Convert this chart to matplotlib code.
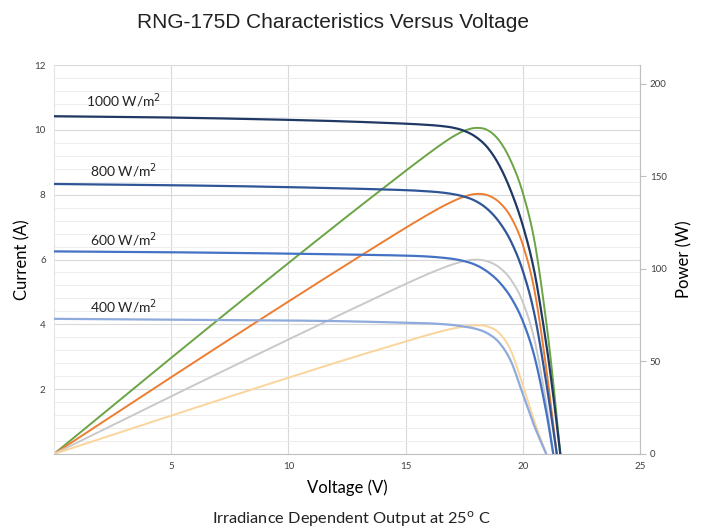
import matplotlib
matplotlib.use("Agg")
import matplotlib.pyplot as plt
import numpy as np

# values
v1000 = [0, 4, 8, 12, 15, 16, 16.5, 17, 17.5, 18, 18.5, 19, 19.5, 20, 20.5, 21, 21.3, 21.6]
i1000 = [10.42, 10.39, 10.34, 10.27, 10.19, 10.15, 10.12, 10.07, 9.97, 9.78, 9.45, 8.9, 8.1, 7.05, 5.6, 3.4, 1.8, 0]
p1000 = [0, 41.56, 82.72, 123.24, 152.85, 162.4, 166.98, 171.19, 174.48, 176.04, 174.83, 169.1, 157.95, 141.0, 114.8, 71.4, 38.34, 0]

v800 = [0, 4, 8, 12, 15, 16, 16.5, 17, 17.5, 18, 18.5, 19, 19.5, 20, 20.5, 21, 21.45]
i800 = [8.33, 8.30, 8.26, 8.20, 8.14, 8.10, 8.07, 8.02, 7.94, 7.80, 7.55, 7.15, 6.55, 5.65, 4.3, 2.2, 0]
p800 = [0, 33.2, 66.08, 98.4, 122.1, 129.6, 133.16, 136.34, 138.95, 140.4, 139.68, 135.85, 127.73, 113.0, 88.15, 46.2, 0]

v600 = [0, 4, 8, 12, 15, 16, 16.5, 17, 17.5, 18, 18.5, 19, 19.5, 20, 20.5, 21, 21.3]
i600 = [6.25, 6.23, 6.20, 6.16, 6.12, 6.09, 6.06, 6.02, 5.95, 5.83, 5.62, 5.3, 4.82, 4.1, 3.0, 1.3, 0]
p600 = [0, 24.92, 49.6, 73.92, 91.8, 97.44, 99.99, 102.34, 104.13, 104.94, 103.97, 100.7, 93.99, 82.0, 61.5, 27.3, 0]

v400 = [0, 4, 8, 12, 15, 16, 16.5, 17, 17.5, 18, 18.5, 19, 19.5, 20, 20.5, 21]
i400 = [4.17, 4.15, 4.13, 4.10, 4.05, 4.03, 4.01, 3.98, 3.93, 3.86, 3.72, 3.43, 2.85, 1.85, 0.85, 0]
p400 = [0, 16.6, 33.04, 49.2, 60.75, 64.48, 66.17, 67.66, 68.78, 69.48, 68.82, 65.17, 55.58, 37.0, 17.43, 0]

labels = ["1000 W/m$^2$", "800 W/m$^2$", "600 W/m$^2$", "400 W/m$^2$"]
label_y = [10.9, 8.73, 6.6, 4.54]

i_colors = ["#1F3864", "#2F5597", "#4472C4", "#8FAADC"]
p_colors = ["#6AA444", "#ED7D31", "#C9C9C9", "#FAD59B"]


def smooth(x, y, n=20):
    # catmull-rom pass through the read points, like Excel's smoothed line
    x = np.asarray(x, float)
    y = np.asarray(y, float)
    xs, ys = [], []
    for k in range(len(x) - 1):
        x0, x1 = x[k], x[k + 1]
        y0, y1 = y[k], y[k + 1]
        if k > 0:
            m0 = (y[k + 1] - y[k - 1]) / (x[k + 1] - x[k - 1])
        else:
            m0 = (y1 - y0) / (x1 - x0)
        if k < len(x) - 2:
            m1 = (y[k + 2] - y[k]) / (x[k + 2] - x[k])
        else:
            m1 = (y1 - y0) / (x1 - x0)
        t = np.linspace(0, 1, n, endpoint=False)
        h = x1 - x0
        h00 = 2 * t**3 - 3 * t**2 + 1
        h10 = t**3 - 2 * t**2 + t
        h01 = -2 * t**3 + 3 * t**2
        h11 = t**3 - t**2
        xs.append(x0 + t * h)
        ys.append(h00 * y0 + h10 * h * m0 + h01 * y1 + h11 * h * m1)
    xs.append([x[-1]])
    ys.append([y[-1]])
    return np.concatenate(xs), np.concatenate(ys)


plt.rcParams['font.family'] = ['Lato', 'DejaVu Sans']

fig = plt.figure(figsize=(7.02, 5.29), dpi=100)
ax = fig.add_axes([0.0769, 0.1418, 0.8348, 0.7353])
ax2 = ax.twinx()

volts = [v1000, v800, v600, v400]
currents = [i1000, i800, i600, i400]
powers = [p1000, p800, p600, p400]

# ax (current scale) stays behind with the grid; all curves go on ax2 so the grid stays under them
for v, p, c in zip(volts, powers, p_colors):
    xs, ys = smooth(v, p)
    ax2.plot(xs, np.clip(ys, 0, None), color=c, lw=1.4, zorder=2)

for v, i, c in zip(volts, currents, i_colors):
    xs, ys = smooth(v, i)
    ax2.plot(xs, np.clip(ys, 0, None), color=c, lw=1.6, zorder=3, transform=ax.transData)

for lab, y in zip(labels, label_y):
    ax2.text(2.95, y, lab, ha="center", va="center", fontsize=10, color="#222222",
             transform=ax.transData)

ax.set_xlim(0, 25)
ax.set_ylim(0, 12)
ax2.set_ylim(0, 210)

ax.set_xticks([5, 10, 15, 20, 25])
ax.set_yticks([2, 4, 6, 8, 10, 12])
ax.set_yticks(np.arange(0, 12.01, 0.4), minor=True)
ax2.set_yticks([0, 50, 100, 150, 200])

ax.grid(True, which="major", color="#D9D9D9", lw=0.8)
ax.grid(True, which="minor", axis="y", color="#EDEDED", lw=0.7)
ax.set_axisbelow(True)

ax.tick_params(axis="both", which="both", length=0, labelsize=7, colors="#404040", pad=6)
ax2.tick_params(axis="y", length=4, color="#BFBFBF", labelsize=7, labelcolor="#404040", pad=3)

for a in (ax, ax2):
    for s in a.spines.values():
        s.set_visible(False)
ax2.spines["right"].set_visible(True)
ax2.spines["right"].set_color("#BFBFBF")
ax2.spines["bottom"].set_visible(True)
ax2.spines["bottom"].set_color("#BFBFBF")
ax2.spines["left"].set_visible(True)
ax2.spines["left"].set_color("#E5E5E5")

ax.set_ylabel("Current (A)", fontsize=12, labelpad=3)
ax2.set_ylabel("Power (W)", fontsize=12, labelpad=7)
ax.set_xlabel("Voltage (V)", fontsize=12, labelpad=6)

fig.text(0.475, 0.958, "RNG-175D Characteristics Versus Voltage", ha="center", va="center",
         fontsize=15, family="Liberation Sans", color="#222222")
fig.text(0.5, 0.018, "Irradiance Dependent Output at 25$^{\\mathrm{o}}$ C", ha="center", va="center",
         fontsize=11.8, color="#222222")

fig.savefig("out.png", dpi=100)
